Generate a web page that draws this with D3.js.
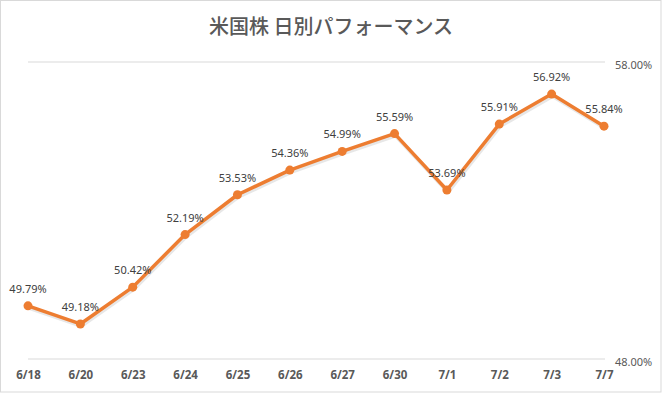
<!DOCTYPE html>
<html><head><meta charset="utf-8">
<script src="https://cdn.jsdelivr.net/npm/d3@7"></script>
<style>body{margin:0;background:#fff;}svg{display:block;}</style>
</head><body>
<svg id="c" width="662" height="393"></svg>
<script>
const categories = ["6/18","6/20","6/23","6/24","6/25","6/26","6/27","6/30","7/1","7/2","7/3","7/7"];
const values = [49.79,49.18,50.42,52.19,53.53,54.36,54.99,55.59,53.69,55.91,56.92,55.84];
const yTicks = [48, 58];
const title = "米国株 日別パフォーマンス";

const svg = d3.select("#c");
const W = 662, H = 393;
const m = {left: 28, right: 604, top: 62, bottom: 359};

svg.append("rect").attr("x",0.5).attr("y",0.5).attr("width",W-1.5).attr("height",H-1.5)
  .attr("fill","#fff").attr("stroke","#d9d9d9");

const x = d3.scalePoint().domain(categories).range([m.left, m.right]);
const y = d3.scaleLinear().domain([48, 58]).range([m.bottom, m.top]);

// gridlines
svg.append("g").selectAll("line").data(yTicks).join("line")
  .attr("x1", m.left).attr("x2", m.right+1)
  .attr("y1", d=>y(d)).attr("y2", d=>y(d))
  .attr("stroke","#d9d9d9").attr("stroke-width",1);

// right axis
const yAxis = d3.axisRight(y).tickValues(yTicks).tickSize(0).tickPadding(10)
  .tickFormat(d=>d.toFixed(2)+"%");
const ga = svg.append("g").attr("transform",`translate(${m.right+1},3)`).call(yAxis);
ga.select(".domain").remove();
ga.selectAll("text").attr("fill","#595959").style("font-family","'Noto Sans', sans-serif").style("font-size","11px");

// x axis
const xAxis = d3.axisBottom(x).tickSize(0).tickPadding(0);
const gx = svg.append("g").attr("transform",`translate(0,${m.bottom+12})`).call(xAxis);
gx.select(".domain").remove();
gx.selectAll("text").attr("fill","#595959").style("font-family","'Noto Sans', sans-serif")
  .style("font-size","11.5px").style("font-weight","bold");

// line
const line = d3.line().x((d,i)=>x(categories[i])).y(d=>y(d));
svg.append("path").datum(values).attr("d", line)
  .attr("fill","none").attr("stroke","#d0d0d0").attr("stroke-width",4)
  .attr("transform","translate(1,2)").attr("opacity",0.5).attr("stroke-linejoin","round");
svg.append("path").datum(values).attr("d", line)
  .attr("fill","none").attr("stroke","#ED7D31").attr("stroke-width",3.5).attr("stroke-linejoin","round");

svg.append("g").selectAll("circle").data(values).join("circle")
  .attr("cx",(d,i)=>x(categories[i])).attr("cy",d=>y(d)).attr("r",4.5)
  .attr("fill","#ED7D31");

// data labels
svg.append("g").selectAll("text").data(values).join("text")
  .attr("x",(d,i)=>x(categories[i])).attr("y",d=>y(d)-13)
  .attr("text-anchor","middle").attr("fill","#404040")
  .style("font-family","'Noto Sans', sans-serif").style("font-size","11px")
  .text(d=>d.toFixed(2)+"%");

// title
svg.append("text").attr("x",331).attr("y",34).attr("text-anchor","middle")
  .attr("fill","#595959").style("font-family","'Noto Sans CJK JP', sans-serif")
  .style("font-size","20px").style("font-weight","500").text(title);
</script>
</body></html>
